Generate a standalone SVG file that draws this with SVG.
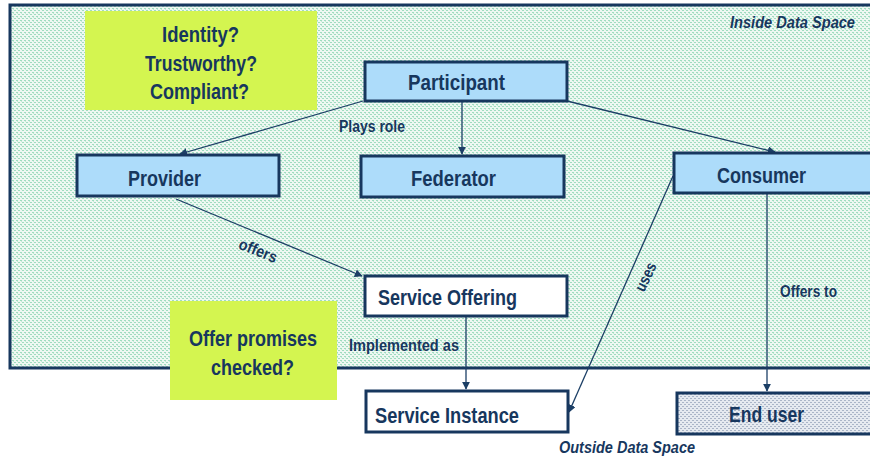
<svg xmlns="http://www.w3.org/2000/svg" width="870" height="461" viewBox="0 0 870 461">
<defs>
<pattern id="dots" width="4" height="4" patternUnits="userSpaceOnUse">
<rect width="4" height="4" fill="#eef8f2"/>
<rect x="0" y="0" width="2" height="1" fill="#9fdcbf"/>
<rect x="2" y="2" width="2" height="1" fill="#9fdcbf"/>
<rect x="1" y="1" width="1" height="1" fill="#c4ead8"/>
</pattern>
<pattern id="gdots" width="4" height="4" patternUnits="userSpaceOnUse">
<rect width="4" height="4" fill="#e6eaf0"/>
<rect x="0" y="0" width="2" height="1" fill="#aab5c7"/>
<rect x="2" y="2" width="2" height="1" fill="#aab5c7"/>
</pattern>
<marker id="arr" viewBox="0 0 10 10" refX="9" refY="5" markerWidth="8" markerHeight="8" markerUnits="userSpaceOnUse" orient="auto">
<path d="M0,0 L10,5 L0,10 z" fill="#1c3f66"/>
</marker>
</defs>
<style>
.t{font-family:"Liberation Sans",Arial,sans-serif;fill:#17375e;font-weight:bold}
.node{font-size:22px}
.q{font-size:22px}
.lbl{font-size:16px}
.it{font-style:italic;font-size:16px}
.box{fill:#addcfa;stroke:#17375e;stroke-width:3}
.wbox{fill:#ffffff;stroke:#17375e;stroke-width:3}
.c{stroke:#1c3f66;stroke-width:1.3;fill:none;marker-end:url(#arr)}
</style>
<g id="inside-space">
<rect x="10" y="5" width="870" height="363" fill="url(#dots)" stroke="#17375e" stroke-width="3"/>
<text class="t it" x="730" y="28" textLength="125" lengthAdjust="spacingAndGlyphs">Inside Data Space</text>
</g>
<g id="outside-label">
<text class="t it" x="559" y="453" textLength="136" lengthAdjust="spacingAndGlyphs">Outside Data Space</text>
</g>
<g id="note-identity">
<rect x="85" y="11" width="232" height="99" fill="#d4f550"/>
<text class="t q" x="162" y="42" textLength="77" lengthAdjust="spacingAndGlyphs">Identity?</text>
<text class="t q" x="145" y="71" textLength="112" lengthAdjust="spacingAndGlyphs">Trustworthy?</text>
<text class="t q" x="150" y="99" textLength="99" lengthAdjust="spacingAndGlyphs">Compliant?</text>
</g>
<g id="note-offer">
<rect x="170" y="301" width="167" height="99" fill="#d4f550"/>
<text class="t q" x="189" y="346" textLength="128" lengthAdjust="spacingAndGlyphs">Offer promises</text>
<text class="t q" x="211" y="375" textLength="83" lengthAdjust="spacingAndGlyphs">checked?</text>
</g>
<g id="connectors">
<line class="c" x1="363" y1="101" x2="180" y2="154"/>
<line class="c" x1="462" y1="102" x2="462" y2="154"/>
<line class="c" x1="567" y1="101" x2="775" y2="152"/>
<line class="c" x1="176" y1="199" x2="362" y2="276"/>
<line class="c" x1="466" y1="317" x2="466" y2="389"/>
<line class="c" x1="673" y1="176" x2="569" y2="412"/>
<line class="c" x1="767" y1="194" x2="767" y2="391"/>
<text class="t lbl" x="339" y="132" textLength="66" lengthAdjust="spacingAndGlyphs">Plays role</text>
<text class="t lbl" x="238" y="256" textLength="40" lengthAdjust="spacingAndGlyphs" transform="rotate(22 258 251)">offers</text>
<text class="t lbl" x="631" y="282" textLength="30" lengthAdjust="spacingAndGlyphs" transform="rotate(-64 646 277)">uses</text>
<text class="t lbl" x="780" y="297" textLength="57" lengthAdjust="spacingAndGlyphs">Offers to</text>
<text class="t lbl" x="349" y="351" textLength="110" lengthAdjust="spacingAndGlyphs">Implemented as</text>
</g>
<g id="participant">
<rect class="box" x="365" y="62" width="202" height="39"/>
<text class="t node" x="408" y="90" textLength="97" lengthAdjust="spacingAndGlyphs">Participant</text>
</g>
<g id="provider">
<rect class="box" x="77" y="155" width="202" height="41"/>
<text class="t node" x="128" y="186" textLength="73" lengthAdjust="spacingAndGlyphs">Provider</text>
</g>
<g id="federator">
<rect class="box" x="361" y="156" width="203" height="41"/>
<text class="t node" x="411" y="186" textLength="85" lengthAdjust="spacingAndGlyphs">Federator</text>
</g>
<g id="consumer">
<rect class="box" x="674" y="153" width="210" height="40"/>
<text class="t node" x="717" y="183" textLength="89" lengthAdjust="spacingAndGlyphs">Consumer</text>
</g>
<g id="service-offering">
<rect class="wbox" x="365" y="276" width="202" height="40"/>
<text class="t node" x="378" y="305" textLength="139" lengthAdjust="spacingAndGlyphs">Service Offering</text>
</g>
<g id="service-instance">
<rect class="wbox" x="366" y="391" width="202" height="41"/>
<text class="t node" x="375" y="423" textLength="144" lengthAdjust="spacingAndGlyphs">Service Instance</text>
</g>
<g id="end-user">
<rect x="677" y="393" width="210" height="41" fill="url(#gdots)" stroke="#17375e" stroke-width="3"/>
<text class="t node" x="729" y="422" textLength="75" lengthAdjust="spacingAndGlyphs">End user</text>
</g>
</svg>
